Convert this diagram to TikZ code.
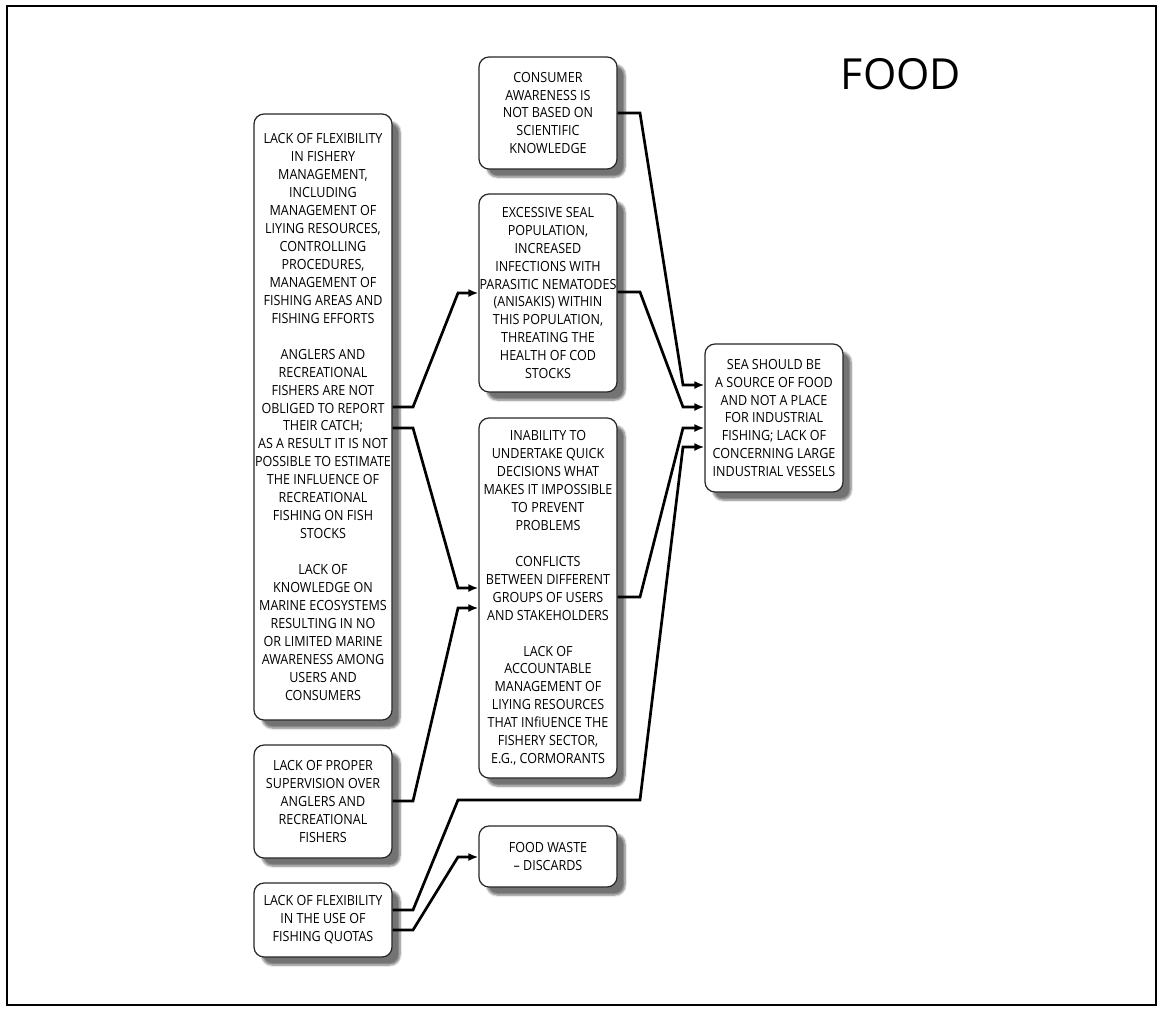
\documentclass[tikz,border=0pt]{standalone}
\usepackage{fontspec}
\setmainfont{Open Sans}
\newfontfamily\boxfont[FakeStretch=0.9]{Open Sans}
\usetikzlibrary{arrows.meta,shadows.blur}
\begin{document}
\begin{tikzpicture}[x=1bp,y=-1bp,
  box/.style={draw=black!85, line width=1.2bp, rounded corners=10bp, fill=white,
    minimum width=138bp, inner sep=0pt, align=center,
    font=\boxfont\fontsize{14}{18}\selectfont,
    blur shadow={shadow xshift=8bp, shadow yshift=-8bp, shadow blur steps=6, shadow opacity=55}},
  link/.style={line width=2.7bp, -{Latex[length=10bp,width=8bp]}}
]
\useasboundingbox (0,0) rectangle (1163,1013);
\draw[line width=2.2bp] (7,6) rectangle (1156,1005);

\node[font=\fontsize{43}{50}\selectfont] (title) at (901,74) {FOOD};

% left column
\node[box, minimum height=606bp] (L1) at (323,417) {LACK OF FLEXIBILITY\\IN FISHERY\\MANAGEMENT,\\INCLUDING\\MANAGEMENT OF\\LIYING RESOURCES,\\CONTROLLING\\PROCEDURES,\\MANAGEMENT OF\\FISHING AREAS AND\\FISHING EFFORTS\\[18bp]ANGLERS AND\\RECREATIONAL\\FISHERS ARE NOT\\OBLIGED TO REPORT\\THEIR CATCH;\\AS A RESULT IT IS NOT\\POSSIBLE TO ESTIMATE\\THE INFLUENCE OF\\RECREATIONAL\\FISHING ON FISH\\STOCKS\\[18bp]LACK OF\\KNOWLEDGE ON\\MARINE ECOSYSTEMS\\RESULTING IN NO\\OR LIMITED MARINE\\AWARENESS AMONG\\USERS AND\\CONSUMERS};
\node[box, minimum height=113bp] (L2) at (323,801.5) {LACK OF PROPER\\SUPERVISION OVER\\ANGLERS AND\\RECREATIONAL\\FISHERS};
\node[box, minimum height=74bp] (L3) at (323,920) {LACK OF FLEXIBILITY\\IN THE USE OF\\FISHING QUOTAS};

% middle column
\node[box, minimum height=112bp] (M1) at (548,113) {CONSUMER\\AWARENESS IS\\NOT BASED ON\\SCIENTIFIC\\KNOWLEDGE};
\node[box, minimum height=198bp] (M2) at (548,293) {EXCESSIVE SEAL\\POPULATION,\\INCREASED\\INFECTIONS WITH\\PARASITIC NEMATODES\\(ANISAKIS) WITHIN\\THIS POPULATION,\\THREATING THE\\HEALTH OF COD\\STOCKS};
\node[box, minimum height=360bp] (M3) at (548,598) {INABILITY TO\\UNDERTAKE QUICK\\DECISIONS WHAT\\MAKES IT IMPOSSIBLE\\TO PREVENT\\PROBLEMS\\[18bp]CONFLICTS\\BETWEEN DIFFERENT\\GROUPS OF USERS\\AND STAKEHOLDERS\\[18bp]LACK OF\\ACCOUNTABLE\\MANAGEMENT OF\\LIYING RESOURCES\\THAT INfiUENCE THE\\FISHERY SECTOR,\\E.G., CORMORANTS};
\node[box, minimum height=61bp] (M4) at (548,856.5) {FOOD WASTE\\– DISCARDS};

% right column
\node[box, minimum height=148bp] (R) at (774,418) {SEA SHOULD BE\\A SOURCE OF FOOD\\AND NOT A PLACE\\FOR INDUSTRIAL\\FISHING; LACK OF\\CONCERNING LARGE\\INDUSTRIAL VESSELS};

% connectors into the right box
\draw[link] (M1.east |- 0,113) -- (640,113) -- (683,385) -- (R.west |- 0,385);
\draw[link] (M2.east |- 0,292) -- (640,292) -- (683,407) -- (R.west |- 0,407);
\draw[link] (M3.east |- 0,597) -- (640,597) -- (683,428) -- (R.west |- 0,428);
\draw[link] (L3.east |- 0,910) -- (413,910) -- (458,800) -- (640,800) -- (683,447) -- (R.west |- 0,447);

% connectors into the middle column
\draw[link] (L1.east |- 0,407) -- (413,407) -- (458,293) -- (M2.west |- 0,293);
\draw[link] (L1.east |- 0,428) -- (413,428) -- (458,588) -- (M3.west |- 0,588);
\draw[link] (L2.east |- 0,801) -- (413,801) -- (458,608) -- (M3.west |- 0,608);
\draw[link] (L3.east |- 0,930) -- (413,930) -- (458,857) -- (M4.west |- 0,857);
\end{tikzpicture}
\end{document}
